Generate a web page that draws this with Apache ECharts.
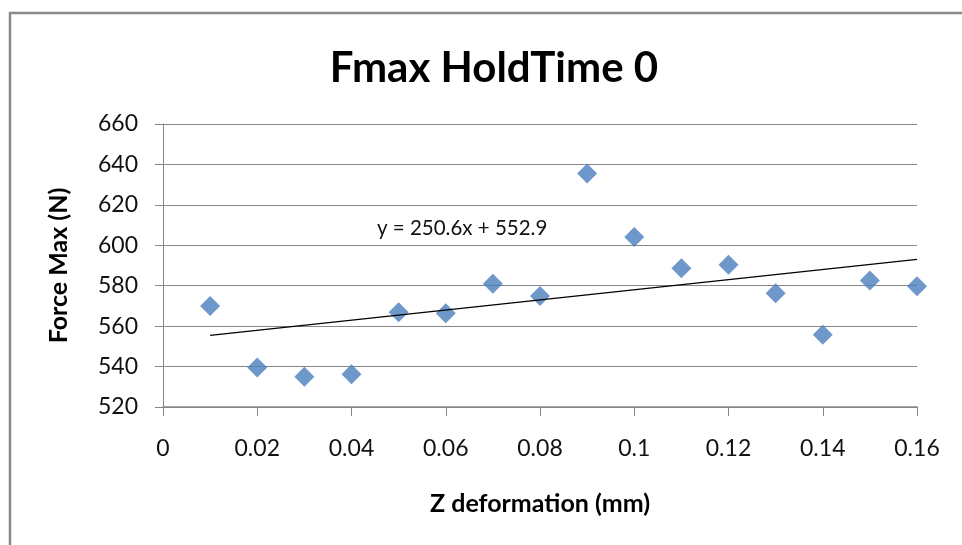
<!DOCTYPE html>
<html>
<head>
<meta charset="utf-8">
<script src="https://cdn.jsdelivr.net/npm/echarts@6/dist/echarts.min.js"></script>
<style>
  html, body { margin: 0; padding: 0; background: #fff; }
  #chart { width: 962px; height: 545px; }
</style>
</head>
<body>
<div id="chart"></div>
<script>
// Measured peak force for each Z deformation step (hold time 0)
const deformation = [0.01, 0.02, 0.03, 0.04, 0.05, 0.06, 0.07, 0.08, 0.09, 0.10, 0.11, 0.12, 0.13, 0.14, 0.15, 0.16];
const forceMax = [570, 539.5, 535, 536.2, 566.9, 566.4, 581, 574.9, 635.5, 604.1, 588.7, 590.4, 576.3, 555.7, 582.6, 579.7];

// Linear trend fitted to the measurements
const trendSlope = 250.6;
const trendIntercept = 552.9;
const trendLabel = 'y = 250.6x + 552.9';

const yTicks = { min: 520, max: 660, step: 20 };
const xTicks = { min: 0, max: 0.16, step: 0.02 };

const points = deformation.map((x, i) => [x, forceMax[i]]);
const xFirst = deformation[0];
const xLast = deformation[deformation.length - 1];
const trend = [xFirst, xLast].map(x => [x, trendSlope * x + trendIntercept]);

const chart = echarts.init(document.getElementById('chart'));
const font = 'Lato, "Liberation Sans", sans-serif';
const gridGray = '#868686';

chart.setOption({
  animation: false,
  backgroundColor: '#fff',
  title: {
    text: 'Fmax HoldTime 0',
    left: 489,
    textAlign: 'center',
    top: 42,
    textStyle: { fontFamily: font, fontWeight: 'bold', fontSize: 42, color: '#000' }
  },
  grid: { left: 163, right: 45, top: 124, bottom: 138 },
  xAxis: {
    type: 'value',
    min: xTicks.min, max: xTicks.max, interval: xTicks.step,
    name: 'Z deformation (mm)',
    nameLocation: 'middle',
    nameGap: 84,
    nameTextStyle: { fontFamily: font, fontWeight: 'bold', fontSize: 25, color: '#000' },
    axisLine: { show: true, lineStyle: { color: gridGray, width: 1.5 } },
    axisTick: { show: true, inside: false, length: 9, lineStyle: { color: gridGray } },
    axisLabel: {
      margin: 30, fontFamily: font, fontSize: 23, color: '#111',
      formatter: v => String(+v.toFixed(2))
    },
    splitLine: { show: false }
  },
  yAxis: {
    type: 'value',
    min: yTicks.min, max: yTicks.max, interval: yTicks.step,
    name: 'Force Max (N)',
    nameLocation: 'middle',
    nameGap: 92,
    nameRotate: 90,
    nameTextStyle: { fontFamily: font, fontWeight: 'bold', fontSize: 25, color: '#000' },
    axisLine: { show: true, lineStyle: { color: gridGray, width: 1 } },
    axisTick: { show: true, length: 8, lineStyle: { color: gridGray } },
    axisLabel: { margin: 25, fontFamily: font, fontSize: 23, color: '#111' },
    splitLine: { show: true, lineStyle: { color: gridGray, width: 1 } }
  },
  graphic: [
    {
      type: 'rect',
      shape: { x: 10, y: 13, width: 1000, height: 600 },
      style: { fill: 'none', stroke: '#8a8a8a', lineWidth: 2.5 },
      silent: true, z: -1
    },
    {
      type: 'text',
      left: 377, top: 218,
      style: { text: trendLabel, fontFamily: font, fontSize: 20.5, fill: '#111' }
    }
  ],
  series: [
    {
      type: 'line',
      data: trend,
      symbol: 'none',
      lineStyle: { color: '#000', width: 1.2 },
      z: 3
    },
    {
      type: 'scatter',
      data: points,
      symbol: 'diamond',
      symbolSize: 20,
      itemStyle: { color: '#4A7EBB' },
      z: 2
    }
  ]
});
</script>
</body>
</html>
